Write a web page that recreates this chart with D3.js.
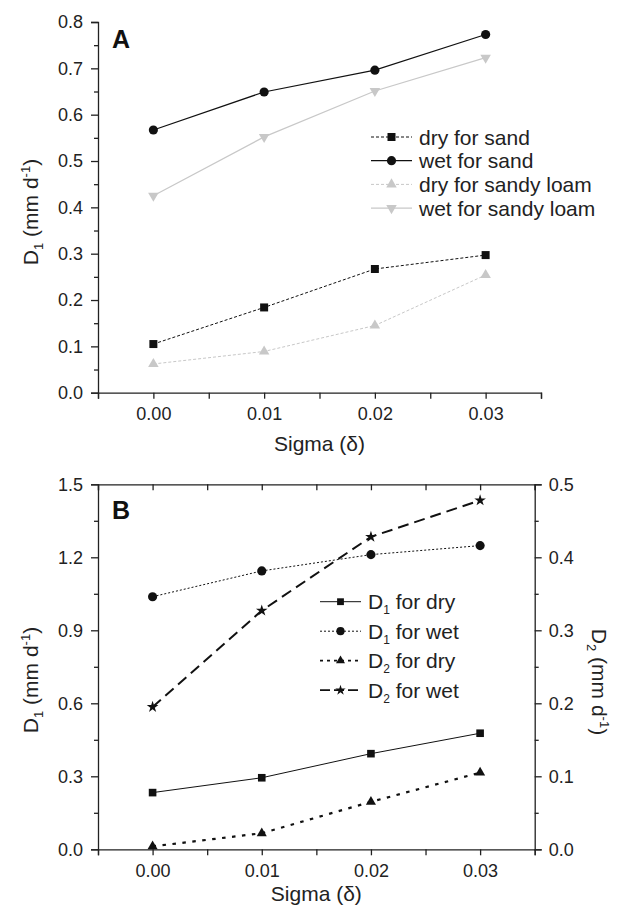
<!DOCTYPE html>
<html>
<head>
<meta charset="utf-8">
<script src="https://cdn.jsdelivr.net/npm/d3@7"></script>
<style>
  body { margin: 0; background: #fff; }
  svg { font-family: "Liberation Sans", Arial, sans-serif; }
  .axis path, .axis line { stroke: #222; stroke-width: 1.3; }
  .axis text { font-size: 18px; fill: #222; font-family: "Liberation Sans", Arial, sans-serif; }
</style>
</head>
<body>
<div id="chart"></div>
<script>
// shared x values (Sigma)
const sigma = [0, 0.01, 0.02, 0.03];
const sigmaTicks = [0, 0.01, 0.02, 0.03];
const sigmaMinor = [-0.005, 0.005, 0.015, 0.025, 0.035];

// panel A values
const drySand = [0.105, 0.184, 0.267, 0.297];
const wetSand = [0.567, 0.649, 0.696, 0.773];
const drySandyLoam = [0.062, 0.089, 0.145, 0.254];
const wetSandyLoam = [0.425, 0.552, 0.651, 0.723];
const yTicksA = [0, 0.1, 0.2, 0.3, 0.4, 0.5, 0.6, 0.7, 0.8];
const yMinorA = [0.05, 0.15, 0.25, 0.35, 0.45, 0.55, 0.65, 0.75];

// panel B values
const d1Dry = [0.233, 0.294, 0.393, 0.477];
const d1Wet = [1.038, 1.144, 1.211, 1.248];
const d2Dry = [0.004, 0.022, 0.065, 0.105];
const d2Wet = [0.195, 0.327, 0.428, 0.478];
const yTicksB = [0, 0.3, 0.6, 0.9, 1.2, 1.5];
const yMinorB = [0.15, 0.45, 0.75, 1.05, 1.35];
const y2TicksB = [0, 0.1, 0.2, 0.3, 0.4, 0.5];
const y2MinorB = [0.05, 0.15, 0.25, 0.35, 0.45];

const W = 624, H = 913;
const svg = d3.select("#chart").append("svg").attr("width", W).attr("height", H);

const GRAY = "#c8c8c8", DARK = "#111";

function marker(type, size) {
  return d3.symbol().type(type).size(size)();
}
const triDown = "rotate(180)";

// ---------- Panel A ----------
const xA = d3.scaleLinear().domain([-0.005, 0.035]).range([98, 541]);
const yA = d3.scaleLinear().domain([0, 0.8]).range([392.7, 22]);
const gA = svg.append("g");

gA.append("g").attr("class", "axis")
  .attr("transform", `translate(0,${yA(0)})`)
  .call(d3.axisBottom(xA).tickValues(sigmaTicks).tickFormat(d3.format(".2f")).tickSizeOuter(0).tickSize(6).tickPadding(9));
gA.append("g").attr("class", "axis")
  .attr("transform", `translate(0,${yA(0)})`)
  .call(d3.axisBottom(xA).tickValues(sigmaMinor).tickFormat("").tickSizeOuter(0).tickSize(6))
  .select(".domain").remove();
gA.append("g").attr("class", "axis")
  .attr("transform", `translate(${xA(-0.005)},0)`)
  .call(d3.axisLeft(yA).tickValues(yTicksA).tickFormat(d3.format(".1f")).tickSizeOuter(0).tickSize(7).tickPadding(8));
gA.append("g").attr("class", "axis")
  .attr("transform", `translate(${xA(-0.005)},0)`)
  .call(d3.axisLeft(yA).tickValues(yMinorA).tickFormat("").tickSize(4))
  .select(".domain").remove();

const seriesA = [
  { name: "dry for sand", values: drySand, color: DARK, dash: "3,2", width: 1, sym: d3.symbolSquare, size: 64, rot: "" },
  { name: "wet for sand", values: wetSand, color: DARK, dash: null, width: 1.2, sym: d3.symbolCircle, size: 66, rot: "" },
  { name: "dry for sandy loam", values: drySandyLoam, color: GRAY, dash: "3,2", width: 1, sym: d3.symbolTriangle, size: 48, rot: "" },
  { name: "wet for sandy loam", values: wetSandyLoam, color: GRAY, dash: null, width: 1.2, sym: d3.symbolTriangle, size: 48, rot: triDown }
];

const lineA = d3.line().x((d, i) => xA(sigma[i])).y(d => yA(d));
seriesA.forEach(s => {
  gA.append("path").datum(s.values)
    .attr("d", lineA).attr("fill", "none")
    .attr("stroke", s.color).attr("stroke-width", s.width)
    .attr("stroke-dasharray", s.dash);
  gA.selectAll(null).data(s.values).enter().append("path")
    .attr("d", marker(s.sym, s.size))
    .attr("transform", (d, i) => `translate(${xA(sigma[i])},${yA(d)}) ${s.rot}`)
    .attr("fill", s.color);
});

// legend A
seriesA.forEach((s, i) => {
  const ly = 137 + i * 23.7;
  gA.append("line").attr("x1", 371).attr("x2", 412).attr("y1", ly).attr("y2", ly)
    .attr("stroke", s.color).attr("stroke-width", s.width).attr("stroke-dasharray", s.dash);
  gA.append("path").attr("d", marker(s.sym, s.size))
    .attr("transform", `translate(391.5,${ly}) ${s.rot}`).attr("fill", s.color);
  gA.append("text").attr("x", 419).attr("y", ly + 7.5)
    .attr("font-size", 21).attr("fill", "#222").text(s.name);
});

gA.append("text").attr("x", 112).attr("y", 47.5)
  .attr("font-size", 25).attr("font-weight", "bold").attr("fill", "#111").text("A");

gA.append("text").attr("x", (98 + 541) / 2).attr("y", 451)
  .attr("text-anchor", "middle").attr("font-size", 21).attr("fill", "#222").text("Sigma (δ)");

function d1Label(g, x, y, sub, rot) {
  const t = g.append("text").attr("transform", `translate(${x},${y}) rotate(${rot})`)
    .attr("text-anchor", "middle").attr("font-size", 21).attr("fill", "#222");
  t.append("tspan").text("D");
  t.append("tspan").attr("font-size", 13).attr("dy", 5).text(sub);
  t.append("tspan").attr("dy", -5).text(" (mm d");
  t.append("tspan").attr("font-size", 13).attr("dy", -8).text("-1");
  t.append("tspan").attr("dy", 8).text(")");
}
d1Label(gA, 38, 212, "1", -90);

// ---------- Panel B ----------
const xB = d3.scaleLinear().domain([-0.005, 0.035]).range([98, 534.7]);
const yB = d3.scaleLinear().domain([0, 1.5]).range([849.3, 484.3]);
const yB2 = d3.scaleLinear().domain([0, 0.5]).range([849.3, 484.3]);
const gB = svg.append("g");

gB.append("g").attr("class", "axis")
  .attr("transform", `translate(0,${yB(0)})`)
  .call(d3.axisBottom(xB).tickValues(sigmaTicks).tickFormat(d3.format(".2f")).tickSizeOuter(0).tickSize(6).tickPadding(9));
gB.append("g").attr("class", "axis")
  .attr("transform", `translate(0,${yB(0)})`)
  .call(d3.axisBottom(xB).tickValues(sigmaMinor).tickFormat("").tickSize(6))
  .select(".domain").remove();
gB.append("g").attr("class", "axis")
  .attr("transform", `translate(0,${yB(1.5)})`)
  .call(d3.axisTop(xB).tickValues(sigmaTicks.concat(sigmaMinor)).tickFormat("").tickSizeOuter(0).tickSize(-6));
gB.append("g").attr("class", "axis")
  .attr("transform", `translate(${xB(-0.005)},0)`)
  .call(d3.axisLeft(yB).tickValues(yTicksB).tickFormat(d3.format(".1f")).tickSizeOuter(0).tickSize(7).tickPadding(8));
gB.append("g").attr("class", "axis")
  .attr("transform", `translate(${xB(-0.005)},0)`)
  .call(d3.axisLeft(yB).tickValues(yMinorB).tickFormat("").tickSize(4))
  .select(".domain").remove();
gB.append("g").attr("class", "axis")
  .attr("transform", `translate(${xB(0.035)},0)`)
  .call(d3.axisRight(yB2).tickValues(y2TicksB).tickFormat(d3.format(".1f")).tickSizeOuter(0).tickSize(7).tickPadding(7));
gB.append("g").attr("class", "axis")
  .attr("transform", `translate(${xB(0.035)},0)`)
  .call(d3.axisRight(yB2).tickValues(y2MinorB).tickFormat("").tickSize(4))
  .select(".domain").remove();

const seriesB = [
  { sub: "1", rest: " for dry", values: d1Dry, scale: yB, dash: null, width: 1, sym: d3.symbolSquare, size: 58 },
  { sub: "1", rest: " for wet", values: d1Wet, scale: yB, dash: "2,2", width: 1, sym: d3.symbolCircle, size: 66 },
  { sub: "2", rest: " for dry", values: d2Dry, scale: yB2, dash: "3.5,6.5", width: 2.2, sym: d3.symbolTriangle, size: 44 },
  { sub: "2", rest: " for wet", values: d2Wet, scale: yB2, dash: "11,6", width: 2, sym: d3.symbolStar, size: 42 }
];

seriesB.forEach(s => {
  const line = d3.line().x((d, i) => xB(sigma[i])).y(d => s.scale(d));
  gB.append("path").datum(s.values)
    .attr("d", line).attr("fill", "none")
    .attr("stroke", DARK).attr("stroke-width", s.width)
    .attr("stroke-dasharray", s.dash);
  gB.selectAll(null).data(s.values).enter().append("path")
    .attr("d", marker(s.sym, s.size))
    .attr("transform", (d, i) => `translate(${xB(sigma[i])},${s.scale(d)})`)
    .attr("fill", DARK);
});

// legend B
seriesB.forEach((s, i) => {
  const ly = 601.7 + i * 29.5;
  gB.append("line").attr("x1", 320).attr("x2", 361).attr("y1", ly).attr("y2", ly)
    .attr("stroke", DARK).attr("stroke-width", s.width > 1 ? 1.8 : 1)
    .attr("stroke-dasharray", s.dash ? (s.width > 1 ? (s.sym === d3.symbolStar ? "10,4" : "3,4") : s.dash) : null);
  gB.append("path").attr("d", marker(s.sym, s.size * 0.8))
    .attr("transform", `translate(340.5,${ly})`).attr("fill", DARK);
  const t = gB.append("text").attr("x", 368).attr("y", ly + 7.5)
    .attr("font-size", 21).attr("fill", "#222");
  t.append("tspan").text("D");
  t.append("tspan").attr("font-size", 12).attr("dy", 5).text(s.sub);
  t.append("tspan").attr("dy", -5).text(s.rest);
});

gB.append("text").attr("x", 112).attr("y", 519)
  .attr("font-size", 25).attr("font-weight", "bold").attr("fill", "#111").text("B");

gB.append("text").attr("x", (98 + 534.7) / 2).attr("y", 901)
  .attr("text-anchor", "middle").attr("font-size", 21).attr("fill", "#222").text("Sigma (δ)");

d1Label(gB, 38, 680, "1", -90);
d1Label(gB, 591.5, 682, "2", 90);
</script>
</body>
</html>
